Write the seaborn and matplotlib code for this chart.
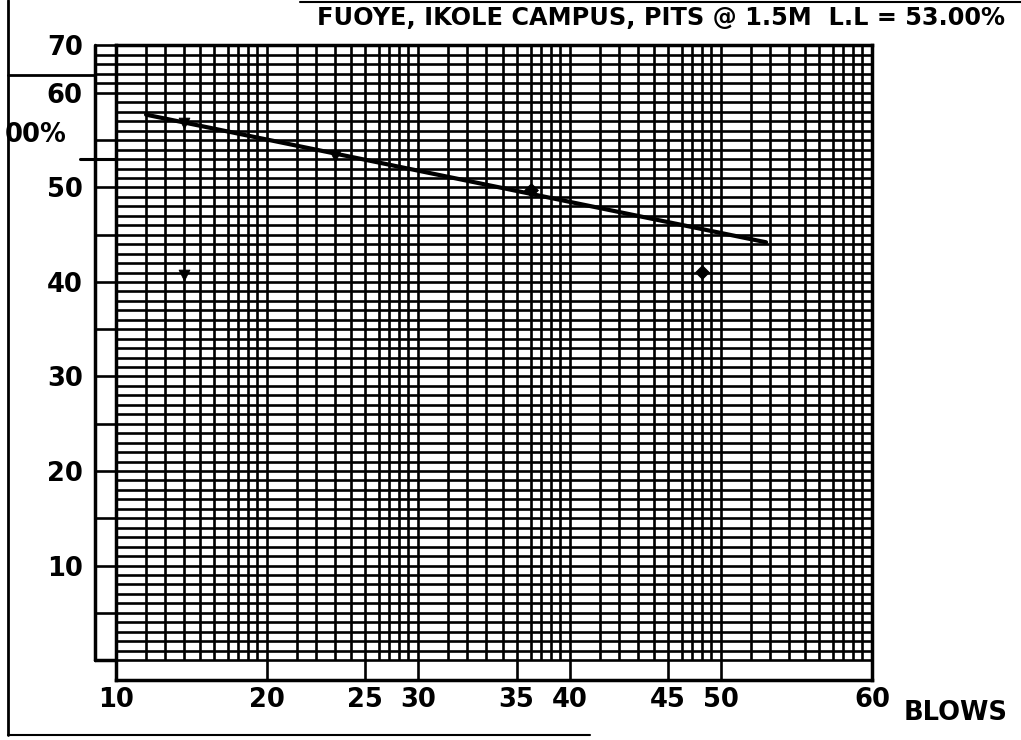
import numpy as np
import pandas as pd
import matplotlib
matplotlib.use("Agg")
import matplotlib.pyplot as plt
import matplotlib.transforms as mtransforms
from matplotlib.lines import Line2D
import seaborn as sns

# ---------------- data ----------------
blow_ticks = [10, 20, 25, 30, 35, 40, 45, 50, 60]
blow_tick_labels = ["10", "20", "25", "30", "35", "40", "45", "50", "60"]
moisture_ticks = [10, 20, 30, 40, 50, 60, 70]
moisture_tick_labels = ["10", "20", "30", "40", "50", "60", "70"]

flow_blows = [11.0, 51.8]
flow_moisture = [57.7, 44.2]

tri_blows = [13.0, 23.0, 13.0]
tri_moisture = [56.8, 53.3, 40.7]
dia_blows = [36.0, 48.0]
dia_moisture = [49.7, 41.1]

liquid_limit = 53.0
title_text = "FUOYE, IKOLE CAMPUS, PITS @ 1.5M  L.L = 53.00%"
ll_label = "00%"
x_name = "BLOWS"

# ---------------- style ----------------
sns.set_theme(style="white")
plt.rcParams["font.family"] = ["DejaVu Sans"]
plt.rcParams["font.weight"] = "bold"

W, H = 1021, 740
fig = plt.figure(figsize=(W / 100, H / 100), dpi=100)
fig.patch.set_facecolor("white")

# axes box in pixels (grid area incl. bottom strip)
ax_l, ax_r, ax_t, ax_b = 116, 872, 45, 680
ax = fig.add_axes([ax_l / W, 1 - ax_b / H, (ax_r - ax_l) / W, (ax_b - ax_t) / H])
ax.set_facecolor("white")

# chart-paper ruling of each ten-blow block (fraction of the block)
ruling = np.array([0, 30, 49, 68, 84, 98, 112, 122, 132, 141, 151]) / 151.0
kv, kp = [], []
for d in range(5):
    for k in range(10):
        kv.append(10 + 10 * d + k)
        kp.append(d + ruling[k])
kv.append(60)
kp.append(5.0)
kv = np.array(kv, float)
kp = np.array(kp, float)


def xf(v):
    return np.interp(v, kv, kp)


def xi(p):
    return np.interp(p, kp, kv)


def yf(v):
    v = np.asarray(v, float)
    return np.where(v <= 60, v, 60 + (v - 60) * 0.507)


def yi(p):
    p = np.asarray(p, float)
    return np.where(p <= 60, p, 60 + (p - 60) / 0.507)


ax.set_xscale("function", functions=(xf, xi))
ax.set_yscale("function", functions=(yf, yi))
y_bottom = -2.11
ax.set_xlim(10, 60)
ax.set_ylim(y_bottom, 70)
ax.autoscale(False)

grid_lw = 1.9
# vertical ruling
ax.vlines(np.arange(10, 61), 0, 70, color="black", lw=grid_lw, zorder=1)
# horizontal ruling
hy = list(range(0, 61)) + [62, 64, 66, 68, 70]
ax.hlines(hy, 10, 60, color="black", lw=grid_lw, zorder=1)
# bottom strip dividers
ax.vlines(blow_ticks, y_bottom, 0, color="black", lw=grid_lw, zorder=1)

for s in ax.spines.values():
    s.set_visible(True)
    s.set_color("black")
    s.set_linewidth(2.5)

# flow line and points
flow_df = pd.DataFrame({"blows": flow_blows, "moisture": flow_moisture})
sns.lineplot(data=flow_df, x="blows", y="moisture", color="black", lw=3.0,
             ax=ax, zorder=4)
tri_df = pd.DataFrame({"blows": tri_blows, "moisture": tri_moisture})
dia_df = pd.DataFrame({"blows": dia_blows, "moisture": dia_moisture})
sns.scatterplot(data=tri_df, x="blows", y="moisture", marker="v", s=60,
                color="black", edgecolor="black", ax=ax, zorder=5)
sns.scatterplot(data=dia_df, x="blows", y="moisture", marker="D", s=50,
                color="black", edgecolor="black", ax=ax, zorder=5)

ax.set_xlim(10, 60)
ax.set_ylim(y_bottom, 70)
ax.set_xlabel("")
ax.set_ylabel("")

fs = 18.5
ax.set_xticks(blow_ticks)
ax.set_xticklabels(blow_tick_labels, fontsize=fs, fontweight="heavy")
ax.set_yticks(moisture_ticks)
ax.set_yticklabels(moisture_tick_labels, fontsize=fs, fontweight="heavy")
ax.minorticks_off()
ax.tick_params(axis="x", length=0, pad=5, colors="black")
ax.tick_params(axis="y", length=0, pad=24, colors="black")

# left column of the chart paper
trans = mtransforms.blended_transform_factory(fig.transFigure, ax.transData)
cl, cr = 95 / W, ax_l / W
fig.add_artist(Line2D([cl, cl], [0, 70], transform=trans, color="black", lw=2.5))
fig.add_artist(Line2D([cl, cr], [0, 0], transform=trans, color="black", lw=2.5))
for yy in list(range(5, 60, 5)) + [60, 62, 64, 66, 68, 70]:
    fig.add_artist(Line2D([cl, cr], [yy, yy], transform=trans, color="black",
                          lw=grid_lw))
# liquid limit marker line
fig.add_artist(Line2D([80 / W, cr], [liquid_limit, liquid_limit], transform=trans,
                      color="black", lw=2.2))

# page borders (scan)
ft = fig.transFigure
fig.add_artist(Line2D([8 / W, 8 / W], [1 - 735 / H, 1.0], transform=ft,
                      color="black", lw=2.0))
fig.add_artist(Line2D([8 / W, 590 / W], [1 - 735 / H, 1 - 735 / H], transform=ft,
                      color="black", lw=1.5))
fig.add_artist(Line2D([300 / W, 1.0], [1 - 2 / H, 1 - 2 / H], transform=ft,
                      color="black", lw=1.5))
fig.add_artist(Line2D([8 / W, cl], [1 - 75 / H, 1 - 75 / H], transform=ft,
                      color="black", lw=2.0))

# liquid-limit label at the left margin
ax.annotate(ll_label, xy=(67 / W, liquid_limit), xycoords=trans,
            xytext=(0, 24), textcoords="offset pixels", ha="right", va="center",
            fontsize=fs, fontweight="heavy", color="black", annotation_clip=False,
            bbox=dict(facecolor="white", edgecolor="none", pad=1))

fig.text(1005 / W, 1 - 18 / H, title_text, ha="right", va="center",
         fontsize=17.3, fontweight="heavy", color="black")
fig.text(1008 / W, 1 - 713 / H, x_name, ha="right", va="center",
         fontsize=fs, fontweight="heavy", color="black")

fig.savefig("out.png", dpi=100, facecolor="white")
